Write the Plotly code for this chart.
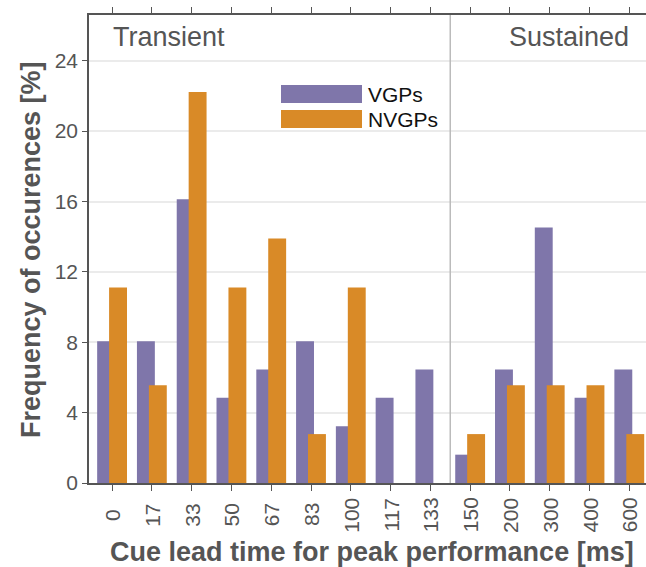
import plotly.graph_objects as go

# Cue lead times (ms) and frequency of occurrence (%) per group
lead_times = ["0", "17", "33", "50", "67", "83", "100", "117", "133",
              "150", "200", "300", "400", "600"]
vgp_name = "VGPs"
nvgp_name = "NVGPs"
vgp_freq = [8.06, 8.06, 16.13, 4.84, 6.45, 8.06, 3.23, 4.84, 6.45,
            1.61, 6.45, 14.52, 4.84, 6.45]
nvgp_freq = [11.11, 5.56, 22.22, 11.11, 13.89, 2.78, 11.11, 0, 0,
             2.78, 5.56, 5.56, 5.56, 2.78]
y_ticks = [0, 4, 8, 12, 16, 20, 24]
phase_labels = ["Transient", "Sustained"]
x_title = "Cue lead time for peak performance [ms]"
y_title = "Frequency of occurences [%]"

PURPLE = "#7F76AA"
ORANGE = "#D98A27"
GREY = "#555555"
FONT = "Arial, Liberation Sans, Helvetica, sans-serif"

# plot area in pixels
W, H = 646, 567
L, R, T, B = 89, 0, 15, 84
PW, PH = W - L - R, H - T - B


def px_x(x):
    return (x - L) / PW


def px_y(y):
    return 1 - (y - T) / PH


x_idx = list(range(len(lead_times)))

fig = go.Figure()
fig.add_trace(go.Bar(x=x_idx, y=vgp_freq, name=vgp_name, marker_color=PURPLE,
                     marker_line_width=0, width=0.45, offset=-0.375,
                     showlegend=False))
fig.add_trace(go.Bar(x=x_idx, y=nvgp_freq, name=nvgp_name, marker_color=ORANGE,
                     marker_line_width=0, width=0.45, offset=-0.075,
                     showlegend=False))

# Divider between transient and sustained lead times
fig.add_shape(type="line", xref="x", yref="paper", x0=8.5, x1=8.5, y0=0, y1=1,
              line=dict(color="#BBBBBB", width=1.5))

# Phase labels
fig.add_annotation(text=phase_labels[0], xref="paper", yref="paper",
                   x=px_x(111), y=px_y(37), xanchor="left", yanchor="middle",
                   showarrow=False, font=dict(family=FONT, size=27, color=GREY))
fig.add_annotation(text=phase_labels[1], xref="paper", yref="paper",
                   x=px_x(631), y=px_y(37), xanchor="right", yanchor="middle",
                   showarrow=False, font=dict(family=FONT, size=27, color=GREY))

# Legend: wide colour swatches with labels
for i, (name, col) in enumerate([(vgp_name, PURPLE), (nvgp_name, ORANGE)]):
    top = 85 + i * 25
    fig.add_shape(type="rect", xref="paper", yref="paper",
                  x0=px_x(281), x1=px_x(362), y0=px_y(top + 18), y1=px_y(top),
                  fillcolor=col, line_width=0)
    fig.add_annotation(text=name, xref="paper", yref="paper",
                       x=px_x(366), y=px_y(top + 9.5),
                       xanchor="left", yanchor="middle", showarrow=False,
                       font=dict(family=FONT, size=21, color="#111111"))

# Rotated category labels, centred under each tick
for i, lab in zip(x_idx, lead_times):
    fig.add_annotation(text=lab, xref="x", yref="paper", x=i, y=px_y(515),
                       xanchor="center", yanchor="middle", textangle=-90,
                       showarrow=False, font=dict(family=FONT, size=21, color=GREY))

# Axis titles
fig.add_annotation(text="<b>" + x_title + "</b>", xref="paper", yref="paper",
                   x=px_x(372), y=px_y(552), xanchor="center", yanchor="middle",
                   showarrow=False, font=dict(family=FONT, size=27, color=GREY))
fig.add_annotation(text="<b>" + y_title + "</b>", xref="paper", yref="paper",
                   x=px_x(31), y=px_y(250), xanchor="center", yanchor="middle",
                   textangle=-90, showarrow=False,
                   font=dict(family=FONT, size=27, color=GREY))

fig.update_layout(
    width=W, height=H,
    margin=dict(l=L, r=R, t=T, b=B),
    barmode="overlay",
    plot_bgcolor="white", paper_bgcolor="white",
    font=dict(family=FONT, color=GREY),
    xaxis=dict(
        range=[-0.58, 13.42],
        tickmode="array", tickvals=x_idx, showticklabels=False,
        ticks="outside", ticklen=6, tickwidth=1.2, tickcolor=GREY,
        showline=True, linecolor=GREY, linewidth=1.5, mirror="allticks",
        showgrid=False, zeroline=False,
    ),
    yaxis=dict(
        range=[0, 26.6],
        tickmode="array", tickvals=y_ticks,
        tickfont=dict(size=21, color=GREY),
        ticks="outside", ticklen=5, tickwidth=1.2, tickcolor=GREY,
        showline=True, linecolor=GREY, linewidth=1.5,
        showgrid=True, gridcolor="#EBEBEB", gridwidth=1.5,
        zeroline=False,
    ),
)

fig.write_html("out.html")
